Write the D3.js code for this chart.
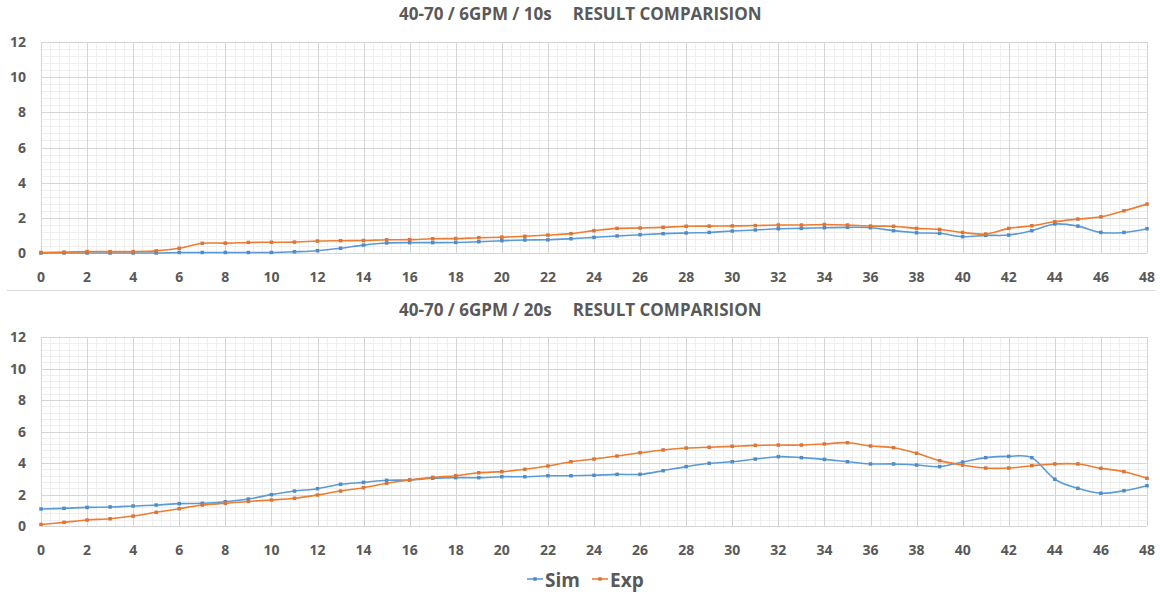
<!DOCTYPE html>
<html>
<head>
<meta charset="utf-8">
<script src="https://cdn.jsdelivr.net/npm/d3@7"></script>
<style>
  body { margin: 0; background: #fff; }
  text { font-family: "Open Sans", sans-serif; font-weight: bold; fill: #595959; }
</style>
</head>
<body>
<script>
// dimensions
var width = 1160;
var height = 594;

// data
var xValues = d3.range(0, 49);
var xTicks = d3.range(0, 49, 2);
var yTicks = [0, 2, 4, 6, 8, 10, 12];

var sim10 = [0, 0, 0, 0, 0, 0, 0.03, 0.03, 0.03, 0.03, 0.03, 0.07, 0.13, 0.27, 0.45, 0.57,
    0.59, 0.59, 0.6, 0.64, 0.7, 0.74, 0.75, 0.81, 0.89, 0.97, 1.04, 1.1, 1.14, 1.17, 1.25, 1.31,
    1.38, 1.4, 1.44, 1.46, 1.44, 1.27, 1.15, 1.12, 0.93, 1.0, 1.02, 1.27, 1.65, 1.53, 1.17, 1.17, 1.38];
var exp10 = [0.03, 0.05, 0.08, 0.08, 0.08, 0.12, 0.27, 0.55, 0.56, 0.6, 0.61, 0.62, 0.68, 0.7, 0.71, 0.75,
    0.76, 0.81, 0.82, 0.87, 0.9, 0.95, 1.02, 1.1, 1.27, 1.4, 1.42, 1.46, 1.52, 1.53, 1.54, 1.56,
    1.59, 1.59, 1.62, 1.59, 1.53, 1.52, 1.4, 1.34, 1.17, 1.08, 1.4, 1.55, 1.78, 1.93, 2.06, 2.4, 2.78];

var sim20 = [1.08, 1.12, 1.18, 1.21, 1.27, 1.33, 1.42, 1.44, 1.54, 1.71, 1.99, 2.22, 2.37, 2.65, 2.77, 2.9,
    2.92, 3.03, 3.07, 3.07, 3.13, 3.13, 3.19, 3.19, 3.22, 3.28, 3.28, 3.51, 3.77, 3.98, 4.08, 4.25,
    4.4, 4.34, 4.23, 4.08, 3.94, 3.94, 3.87, 3.77, 4.06, 4.34, 4.42, 4.34, 2.97, 2.39, 2.08, 2.24, 2.56];
var exp20 = [0.1, 0.23, 0.38, 0.46, 0.63, 0.87, 1.1, 1.33, 1.44, 1.56, 1.65, 1.76, 1.97, 2.22, 2.43, 2.71,
    2.92, 3.09, 3.19, 3.38, 3.45, 3.6, 3.81, 4.08, 4.25, 4.44, 4.65, 4.83, 4.95, 5.0, 5.06, 5.12,
    5.14, 5.14, 5.21, 5.29, 5.08, 4.97, 4.62, 4.15, 3.87, 3.68, 3.68, 3.83, 3.94, 3.94, 3.66, 3.45, 3.03];

var seriesNames = ["Sim", "Exp"];
var colors = { Sim: "#5b9bd5", Exp: "#ed7d31" };
var markerColors = { Sim: "#4f8cc6", Exp: "#d8753a" };

var svg = d3.select("body")
    .append("svg")
    .attr("width", width)
    .attr("height", height);

var x = d3.scaleLinear().domain([0, 48]).range([41, 1147]);

// separator between the two charts
svg.append("line")
    .attr("x1", 7).attr("x2", 1155)
    .attr("y1", 290.5).attr("y2", 290.5)
    .attr("stroke", "#d9d9d9");

function drawPanel(titleA, titleB, titleY, top, bottom, sim, exp) {
    var y = d3.scaleLinear().domain([0, 12]).range([bottom, top]);
    var g = svg.append("g");

    // minor grid, every 0.4
    var minor = d3.range(0, 121).map(function(i) { return i * 0.4; });
    var minorY = d3.range(0, 31).map(function(i) { return i * 0.4; });
    g.selectAll(".mx").data(minor).enter().append("line")
        .attr("x1", function(d) { return Math.round(x(d)) + 0.5; })
        .attr("x2", function(d) { return Math.round(x(d)) + 0.5; })
        .attr("y1", top).attr("y2", bottom)
        .attr("stroke", "#efefef");
    g.selectAll(".my").data(minorY).enter().append("line")
        .attr("x1", x(0)).attr("x2", x(48))
        .attr("y1", function(d) { return Math.round(y(d)) + 0.5; })
        .attr("y2", function(d) { return Math.round(y(d)) + 0.5; })
        .attr("stroke", "#efefef");

    // major grid
    g.selectAll(".gx").data(xTicks).enter().append("line")
        .attr("x1", function(d) { return Math.round(x(d)) + 0.5; })
        .attr("x2", function(d) { return Math.round(x(d)) + 0.5; })
        .attr("y1", top).attr("y2", bottom)
        .attr("stroke", "#d5d5d5");
    g.selectAll(".gy").data(yTicks).enter().append("line")
        .attr("x1", x(0)).attr("x2", x(48))
        .attr("y1", function(d) { return Math.round(y(d)) + 0.5; })
        .attr("y2", function(d) { return Math.round(y(d)) + 0.5; })
        .attr("stroke", "#d5d5d5");

    // axis labels
    g.selectAll(".yl").data(yTicks).enter().append("text")
        .attr("x", 26)
        .attr("y", function(d) { return y(d) + 5; })
        .attr("text-anchor", "end")
        .attr("font-size", 14)
        .text(function(d) { return d; });
    g.selectAll(".xl").data(xTicks).enter().append("text")
        .attr("x", function(d) { return x(d); })
        .attr("y", bottom + 29)
        .attr("text-anchor", "middle")
        .attr("font-size", 14)
        .text(function(d) { return d; });

    // title
    var t = g.append("text")
        .attr("x", 399)
        .attr("y", titleY + 6)
        .attr("font-size", 17);
    t.append("tspan").text(titleA);
    t.append("tspan").attr("dx", 21).text(titleB);

    var line = d3.line()
        .x(function(d, i) { return x(xValues[i]); })
        .y(function(d) { return y(d); })
        .curve(d3.curveCardinal.tension(0));

    [["Sim", sim], ["Exp", exp]].forEach(function(s) {
        g.append("path")
            .attr("d", line(s[1]))
            .attr("fill", "none")
            .attr("stroke", colors[s[0]])
            .attr("stroke-width", 1.6);
        g.selectAll(".m" + s[0]).data(s[1]).enter().append("rect")
            .attr("x", function(d, i) { return x(xValues[i]) - 1.75; })
            .attr("y", function(d) { return y(d) - 1.75; })
            .attr("width", 3.5)
            .attr("height", 3.5)
            .attr("fill", markerColors[s[0]]);
    });
}

drawPanel("40-70 / 6GPM / 10s", "RESULT COMPARISION", 14, 42, 253, sim10, exp10);
drawPanel("40-70 / 6GPM / 20s", "RESULT COMPARISION", 310, 337, 526, sim20, exp20);

// legend
var legend = svg.append("g");
var legendX = { Sim: 527, Exp: 592 };
seriesNames.forEach(function(name) {
    var lx = legendX[name];
    legend.append("line")
        .attr("x1", lx).attr("x2", lx + 16)
        .attr("y1", 579).attr("y2", 579)
        .attr("stroke", colors[name])
        .attr("stroke-width", 1.6);
    legend.append("rect")
        .attr("x", lx + 6.25).attr("y", 577.25)
        .attr("width", 3.5).attr("height", 3.5)
        .attr("fill", markerColors[name]);
    legend.append("text")
        .attr("x", lx + 18)
        .attr("y", 587)
        .attr("font-size", 19)
        .text(name);
});
</script>
</body>
</html>
